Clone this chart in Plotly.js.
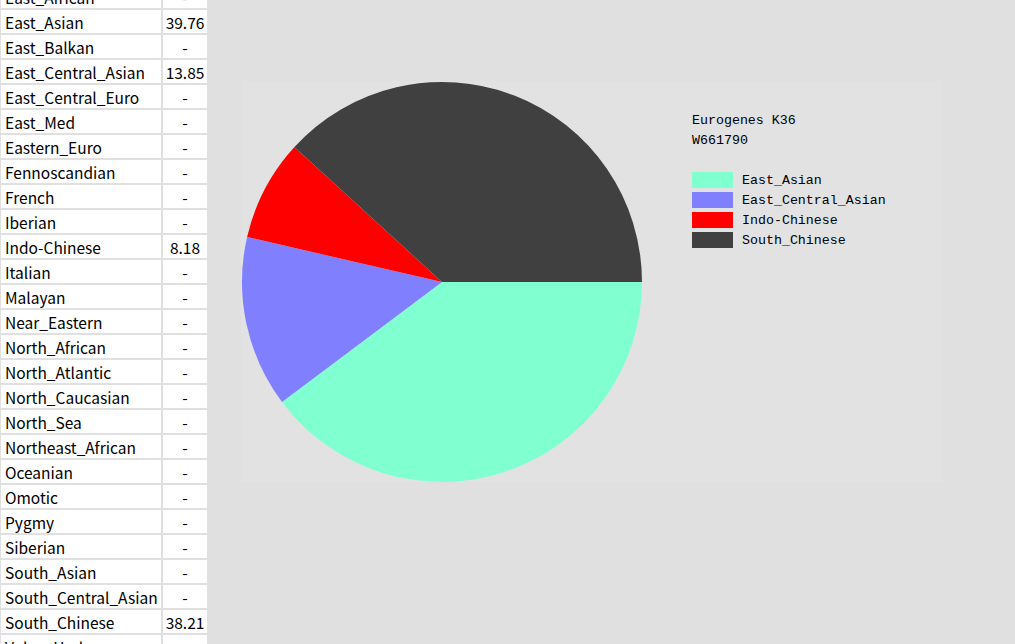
<!DOCTYPE html>
<html>
<head>
<meta charset="utf-8">
<script src="https://cdn.plot.ly/plotly-3.0.1.min.js"></script>
<style>
html,body{margin:0;padding:0;width:1015px;height:644px;overflow:hidden;background:#e0e0e0;}
#pie{position:absolute;left:0;top:0;width:1015px;height:644px;}
#tbl{position:absolute;left:-7px;top:-16px;width:260px;height:700px;}
</style>
</head>
<body>
<div id="pie"></div>
<div id="tbl"></div>
<script>
// ---- data ----
const populations = ['East_African','East_Asian','East_Balkan','East_Central_Asian','East_Central_Euro','East_Med','Eastern_Euro','Fennoscandian','French','Iberian','Indo-Chinese','Italian','Malayan','Near_Eastern','North_African','North_Atlantic','North_Caucasian','North_Sea','Northeast_African','Oceanian','Omotic','Pygmy','Siberian','South_Asian','South_Central_Asian','South_Chinese','Volga_Ural'];
const percentages = [null,39.76,null,13.85,null,null,null,null,null,null,8.18,null,null,null,null,null,null,null,null,null,null,null,null,null,null,38.21,null];
const chartTitle = 'Eurogenes K36';
const sampleId = 'W661790';
const sliceColors = {'East_Asian':'#80ffd0','East_Central_Asian':'#8080ff','Indo-Chinese':'#ff0000','South_Chinese':'#404040'};

// ---- table (scrolled so the first row is partly hidden) ----
const shown = percentages.map(v => v === null ? '-' : v.toFixed(2));
const cellFont = {family:'"Noto Sans CJK SC", "Noto Sans", sans-serif', size:15.5, color:'#000'};
const TW = 260, TH = 700;
Plotly.newPlot('tbl', [{
  type:'table',
  domain:{x:[4/TW, 215/TW], y:[0,1]},
  columnwidth:[165,46],
  header:{values:[populations[0], shown[0]], height:25, align:['left','center'],
          fill:{color:'#ffffff'}, line:{color:'#e0e0e0', width:2}, font:cellFont},
  cells:{values:[populations.slice(1), shown.slice(1)], height:25, align:['left','center'],
         fill:{color:'#ffffff'}, line:{color:'#e0e0e0', width:2}, font:cellFont}
}], {
  width:TW, height:TH, margin:{l:0,r:0,t:0,b:0},
  paper_bgcolor:'rgba(0,0,0,0)', plot_bgcolor:'rgba(0,0,0,0)',
  shapes:[{type:'line', xref:'paper', yref:'paper', x0:7.5/TW, x1:7.5/TW, y0:0, y1:1,
           line:{color:'#e0e0e0', width:1}}]
}, {staticPlot:true, displayModeBar:false});

// ---- pie ----
const labels = populations.filter((p,i) => percentages[i] !== null);
const values = percentages.filter(v => v !== null);
const W = 1015, H = 644;
const px = x => x / W, py = y => 1 - y / H;

const shapes = [{type:'rect', xref:'paper', yref:'paper', layer:'below',
  x0:px(241), x1:px(942), y0:py(482), y1:py(81), fillcolor:'#e2e2e2', line:{width:0}}];
const monoFont = {family:'"Liberation Mono", "DejaVu Sans Mono", monospace', size:13.3, color:'#000'};
const annotations = [
  {text:chartTitle, x:px(691), y:py(120)},
  {text:sampleId, x:px(691), y:py(140.5)}
];
labels.forEach((lab, i) => {
  const yc = 180 + 20 * i;
  shapes.push({type:'rect', xref:'paper', yref:'paper', x0:px(692), x1:px(733),
    y0:py(yc + 8), y1:py(yc - 8), fillcolor:sliceColors[lab], line:{width:0}});
  annotations.push({text:lab, x:px(741), y:py(yc + 0.5)});
});
annotations.forEach(a => Object.assign(a, {xref:'paper', yref:'paper', xanchor:'left',
  yanchor:'middle', showarrow:false, borderpad:0, font:monoFont}));

Plotly.newPlot('pie', [{
  type:'pie', labels:labels, values:values, sort:false,
  direction:'clockwise', rotation:90,
  marker:{colors:labels.map(l => sliceColors[l]), line:{width:0}},
  textinfo:'none', hoverinfo:'label+value',
  domain:{x:[px(242), px(642)], y:[py(482), py(82)]}
}], {
  width:W, height:H, margin:{l:0,r:0,t:0,b:0},
  paper_bgcolor:'#e0e0e0', showlegend:false,
  shapes:shapes, annotations:annotations
}, {staticPlot:true, displayModeBar:false});
</script>
</body>
</html>
